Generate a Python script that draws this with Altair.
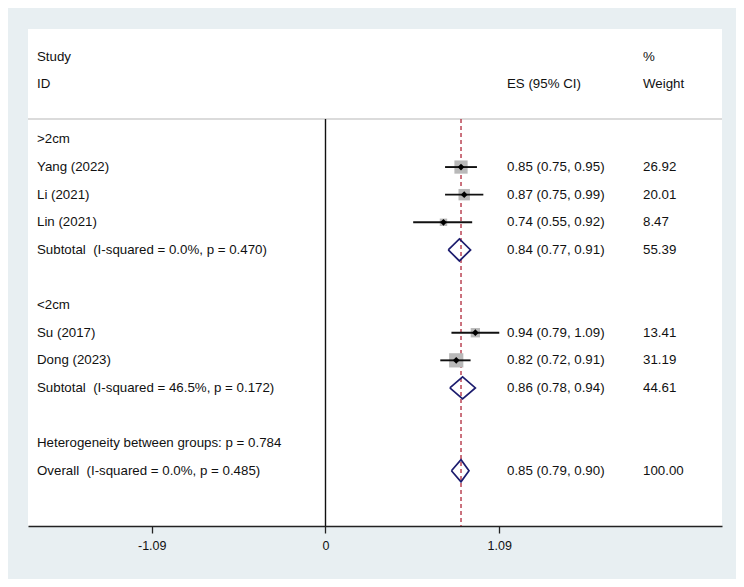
import altair as alt
import pandas as pd

# ---- data ----
studies = ["Yang (2022)", "Li (2021)", "Lin (2021)", "Su (2017)", "Dong (2023)"]
study_rows = [4, 5, 6, 10, 11]
es = [0.85, 0.87, 0.74, 0.94, 0.82]
lo = [0.75, 0.75, 0.55, 0.79, 0.72]
hi = [0.95, 0.99, 0.92, 1.09, 0.91]
weights = [26.92, 20.01, 8.47, 13.41, 31.19]

NB = "\u00a0"
pooled_labels = [f"Subtotal{NB}{NB}(I-squared = 0.0%, p = 0.470)",
                 f"Subtotal{NB}{NB}(I-squared = 46.5%, p = 0.172)",
                 f"Overall{NB}{NB}(I-squared = 0.0%, p = 0.485)"]
pooled_rows = [7, 12, 15]
pooled_es = [0.84, 0.86, 0.85]
pooled_lo = [0.77, 0.78, 0.79]
pooled_hi = [0.91, 0.94, 0.90]
pooled_w = [55.39, 44.61, 100.00]

other_labels = ["Study", "ID", ">2cm", "<2cm", "Heterogeneity between groups: p = 0.784"]
other_rows = [0, 1, 3, 9, 14]

tick_values = [-1.09, 0, 1.09]
null_value = 0
overall_es = pooled_es[-1]

FONT = "Liberation Sans"
FS = 13.3
TXT = "#111111"

xscale = alt.Scale(domain=[-1.866, 2.487], nice=False, zero=False)
yscale = alt.Scale(domain=[17, -1], nice=False, zero=False)
Y = alt.Y("row:Q", scale=yscale, axis=None)

XAXIS = alt.Axis(values=tick_values,
                 labelExpr="datum.value == 0 ? '0' : (datum.value < 0 ? '-' : '') + format(abs(datum.value), '.2f')",
                 grid=False, domainColor="#222222", domainWidth=1.6, tickColor="#222222",
                 tickWidth=1.3, tickSize=7, labelFontSize=12.5, labelFont=FONT, labelColor=TXT,
                 labelPadding=6, title=None, orient="bottom")


def X(field):
    return alt.X(field, scale=xscale, axis=XAXIS, title=None)


studies_df = pd.DataFrame({
    "label": studies, "row": study_rows, "es": es, "lo": lo, "hi": hi, "w": weights,
})
studies_df["ci"] = [f"{e:.2f} ({l:.2f}, {h:.2f})" for e, l, h in zip(es, lo, hi)]
studies_df["wt"] = [f"{w:.2f}" for w in weights]
studies_df["area"] = studies_df["w"] * 6.5

pooled_df = pd.DataFrame({
    "label": pooled_labels, "row": pooled_rows, "es": pooled_es,
    "lo": pooled_lo, "hi": pooled_hi, "w": pooled_w,
})
pooled_df["ci"] = [f"{e:.2f} ({l:.2f}, {h:.2f})" for e, l, h in zip(pooled_es, pooled_lo, pooled_hi)]
pooled_df["wt"] = [f"{w:.2f}" for w in pooled_w]

# diamond outlines built from pooled estimates
dpts = []
for i, (r, e, l, h) in enumerate(zip(pooled_rows, pooled_es, pooled_lo, pooled_hi)):
    for j, (xx, yy) in enumerate([(l, r), (e, r - 0.4), (h, r), (e, r + 0.4), (l, r)]):
        dpts.append({"id": i, "o": j, "x": xx, "row": yy})
diamond_df = pd.DataFrame(dpts)

other_df = pd.DataFrame({"label": other_labels, "row": other_rows})
header_df = pd.DataFrame({
    "label": ["ES (95% CI)", "%", "Weight"],
    "row": [1, 0, 1],
    "col": ["es", "w", "w"],
})

W, H = 694, 497
TOPLINE = 90

sep = alt.Chart(pd.DataFrame({"a": [0]})).mark_rule(color="#cfcfcf", strokeWidth=1.5).encode(
    x=alt.value(0), x2=alt.value(W), y=alt.value(TOPLINE))

zero_line = alt.Chart(pd.DataFrame({"x": [null_value]})).mark_rule(color="#111111", strokeWidth=1.4).encode(
    x=X("x:Q"), y=alt.value(TOPLINE), y2=alt.value(H))

overall_line = alt.Chart(pd.DataFrame({"x": [overall_es]})).mark_rule(
    color="#b0283a", strokeWidth=1.3, strokeDash=[4, 3]).encode(
    x=X("x:Q"), y=alt.value(TOPLINE), y2=alt.value(H))

boxes = alt.Chart(studies_df).mark_square(color="#b9b9b9", opacity=1).encode(
    x=X("es:Q"), y=Y,
    size=alt.Size("area:Q", scale=None, legend=None))

ci = alt.Chart(studies_df).mark_rule(color="#111111", strokeWidth=1.9).encode(
    x=X("lo:Q"), x2="hi:Q", y=Y)

pts = alt.Chart(studies_df).mark_point(shape="diamond", filled=True, color="#000000", size=45, opacity=1).encode(
    x=X("es:Q"), y=Y)

diamonds = alt.Chart(diamond_df).mark_line(color="#1c1c6e", strokeWidth=1.7).encode(
    x=X("x:Q"), y=Y, detail="id:N", order="o:Q")


def txt(df, field, xpix):
    return alt.Chart(df).mark_text(align="left", baseline="middle", font=FONT, fontSize=FS, color=TXT).encode(
        x=alt.value(xpix), y=Y, text=f"{field}:N")


labels_s = txt(studies_df, "label", 9)
labels_p = txt(pooled_df, "label", 9)
labels_o = txt(other_df, "label", 9)
ci_s = txt(studies_df, "ci", 479)
ci_p = txt(pooled_df, "ci", 479)
w_s = txt(studies_df, "wt", 615)
w_p = txt(pooled_df, "wt", 615)
h_es = txt(header_df[header_df.col == "es"], "label", 479)
h_w = txt(header_df[header_df.col == "w"], "label", 615)

chart = alt.layer(
    sep, zero_line, overall_line, boxes, ci, pts, diamonds,
    labels_s, labels_p, labels_o, ci_s, ci_p, w_s, w_p, h_es, h_w,
).properties(
    width=W, height=H, background="#e8eff2",
    autosize=alt.AutoSizeParams(type="none"),
    padding={"left": 20, "top": 21, "right": 14, "bottom": 53},
).configure_view(fill="white", stroke=None)

chart.save("out.html", embed_options={"renderer": "svg", "actions": False})
